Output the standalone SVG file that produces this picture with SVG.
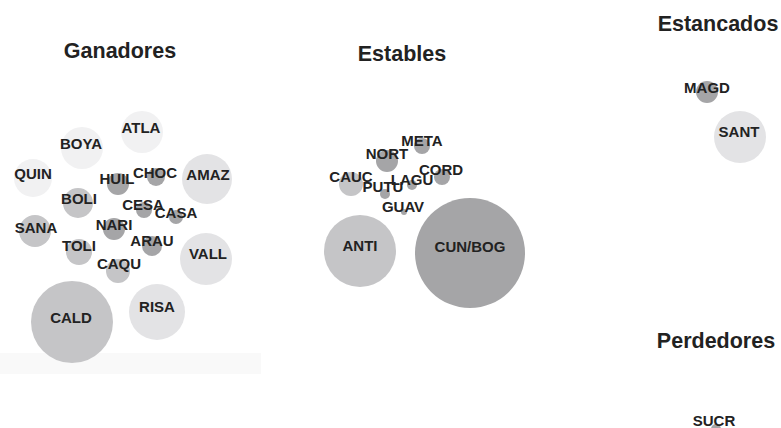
<svg xmlns="http://www.w3.org/2000/svg" width="781" height="428" viewBox="0 0 781 428">
  <style>
    .title { font-family: "Liberation Sans", Arial, sans-serif; font-weight: bold; font-size: 21.5px; fill: #222; text-anchor: middle; }
    .lbl { font-family: "Liberation Sans", Arial, sans-serif; font-weight: bold; font-size: 15px; fill: #222; text-anchor: middle; }
    .c1 { fill: #f1f1f2; }
    .c2 { fill: #e3e3e5; }
    .c3 { fill: #c5c5c7; }
    .c4 { fill: #a5a5a7; }
  </style>
  <rect width="781" height="428" fill="#fff"/>
  <rect x="0" y="353" width="261" height="21" fill="#f9f9f9"/>

  <!-- group titles -->
  <text class="title" x="120" y="58">Ganadores</text>
  <text class="title" x="402" y="61">Estables</text>
  <text class="title" x="718" y="31">Estancados</text>
  <text class="title" x="716" y="348">Perdedores</text>

  <g id="connectors"/>

  <!-- Ganadores -->
  <g id="ATLA"><circle class="c1" cx="142" cy="132" r="21"/><text class="lbl" x="141" y="133">ATLA</text></g>
  <g id="BOYA"><circle class="c1" cx="82" cy="148" r="21"/><text class="lbl" x="81" y="149">BOYA</text></g>
  <g id="QUIN"><circle class="c1" cx="33" cy="178" r="19"/><text class="lbl" x="33" y="179">QUIN</text></g>
  <g id="AMAZ"><circle class="c2" cx="207" cy="179" r="25"/><text class="lbl" x="208" y="180">AMAZ</text></g>
  <g id="HUIL"><circle class="c4" cx="118" cy="184" r="11"/><text class="lbl" x="117" y="184">HUIL</text></g>
  <g id="CHOC"><circle class="c4" cx="156" cy="177" r="9"/><text class="lbl" x="155" y="178">CHOC</text></g>
  <g id="BOLI"><circle class="c3" cx="78" cy="203" r="15"/><text class="lbl" x="79" y="204">BOLI</text></g>
  <g id="CESA"><circle class="c4" cx="144" cy="210" r="8"/><text class="lbl" x="143" y="210">CESA</text></g>
  <g id="CASA"><circle class="c4" cx="176" cy="217" r="7"/><text class="lbl" x="176" y="218">CASA</text></g>
  <g id="SANA"><circle class="c3" cx="35" cy="231" r="16"/><text class="lbl" x="36" y="233">SANA</text></g>
  <g id="NARI"><circle class="c4" cx="114" cy="229" r="11"/><text class="lbl" x="114" y="230">NARI</text></g>
  <g id="ARAU"><circle class="c4" cx="152" cy="246" r="10"/><text class="lbl" x="152" y="246">ARAU</text></g>
  <g id="TOLI"><circle class="c3" cx="79" cy="252" r="13"/><text class="lbl" x="79" y="251">TOLI</text></g>
  <g id="VALL"><circle class="c2" cx="206" cy="259" r="26"/><text class="lbl" x="208" y="259">VALL</text></g>
  <g id="CAQU"><circle class="c3" cx="118" cy="271" r="12"/><text class="lbl" x="119" y="269">CAQU</text></g>
  <g id="CALD"><circle class="c3" cx="72" cy="322" r="41"/><text class="lbl" x="71" y="323">CALD</text></g>
  <g id="RISA"><circle class="c2" cx="157" cy="312" r="28"/><text class="lbl" x="157" y="312">RISA</text></g>

  <!-- Estables -->
  <g id="META"><circle class="c4" cx="422" cy="146" r="8"/><text class="lbl" x="422" y="146">META</text></g>
  <g id="NORT"><circle class="c4" cx="387" cy="161" r="11"/><text class="lbl" x="387" y="159">NORT</text></g>
  <g id="CAUC"><circle class="c3" cx="351" cy="184" r="12"/><text class="lbl" x="351" y="182">CAUC</text></g>
  <g id="PUTU"><circle class="c4" cx="385" cy="194" r="5"/><text class="lbl" x="383" y="192">PUTU</text></g>
  <g id="LAGU"><circle class="c4" cx="412" cy="185" r="5"/><text class="lbl" x="412" y="185">LAGU</text></g>
  <g id="CORD"><circle class="c4" cx="442" cy="177" r="8"/><text class="lbl" x="441" y="175">CORD</text></g>
  <g id="GUAV"><circle class="c4" cx="404" cy="212" r="3"/><text class="lbl" x="403" y="212">GUAV</text></g>
  <g id="ANTI"><circle class="c3" cx="360" cy="251" r="36"/><text class="lbl" x="360" y="251">ANTI</text></g>
  <g id="CUN_BOG"><circle class="c4" cx="470" cy="253" r="55"/><text class="lbl" x="470" y="252">CUN/BOG</text></g>

  <!-- Estancados -->
  <g id="MAGD"><circle class="c4" cx="707" cy="92" r="11"/><text class="lbl" x="707" y="93">MAGD</text></g>
  <g id="SANT"><circle class="c2" cx="740" cy="137" r="26"/><text class="lbl" x="739" y="137">SANT</text></g>

  <!-- Perdedores -->
  <g id="SUCR"><circle class="c4" cx="716" cy="429" r="5"/><text class="lbl" x="714" y="426">SUCR</text></g>
</svg>
